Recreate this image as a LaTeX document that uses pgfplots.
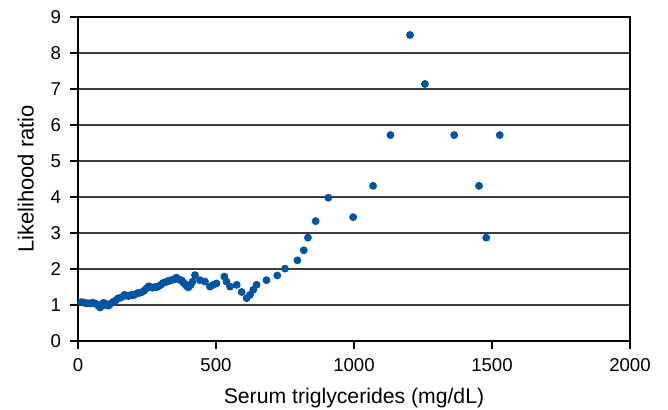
\documentclass[border=0pt]{standalone}
\usepackage{pgfplots}
\pgfplotsset{compat=1.18}
\usepackage{fontspec}
\setmainfont{Liberation Sans}
\definecolor{cDot}{RGB}{0,84,166}
\definecolor{cGrid}{RGB}{60,60,60}

\begin{document}
\begin{tikzpicture}
\path[use as bounding box] (-39pt,-34.5pt) rectangle (295pt,170.5pt);
\begin{axis}[
  scale only axis, width=276pt, height=162pt,
  xmin=0, xmax=2000, ymin=0, ymax=9,
  xtick={0,500,...,2000}, ytick={0,1,...,9},
  xtick pos=bottom, ytick pos=left,
  tick align=outside, major tick length=4pt,
  tick style={black, line width=0.8pt},
  axis line style={black, line width=0.8pt},
  ymajorgrids, grid style={cGrid, line width=0.9pt},
  every x tick label/.style={yshift=-1pt},
  every y tick label/.style={xshift=-1pt},
  tick label style={font=\fontsize{9.3}{11}\selectfont},
  /pgf/number format/assume math mode=true,
  /pgf/number format/1000 sep={},
  xlabel={Serum triglycerides (mg/dL)},
  ylabel={Likelihood ratio},
  xlabel style={font=\fontsize{10.6}{12}\selectfont, yshift=-1.5pt},
  ylabel style={font=\fontsize{11}{13}\selectfont, yshift=1.5pt},
]
\addplot[only marks, mark=*, mark size=1.75pt, cDot] coordinates {
(12,1.08)(20,1.07)(28,1.05)(36,1.05)(44,1.04)(52,1.06)(60,1.05)(68,1.02)
(74,0.98)(80,0.93)(86,0.97)(92,1.06)(98,1.04)(104,1.00)(110,0.98)(116,1.02)
(122,1.06)(128,1.09)(136,1.12)(144,1.18)(152,1.20)(160,1.22)(168,1.28)(176,1.26)
(184,1.25)(192,1.28)(200,1.27)(208,1.30)(216,1.33)(224,1.34)(232,1.36)(240,1.40)
(248,1.46)(256,1.52)(262,1.50)(270,1.48)(278,1.50)(286,1.50)(292,1.52)(300,1.56)
(308,1.61)(316,1.63)(324,1.66)(332,1.67)(340,1.70)(348,1.71)(356,1.76)(362,1.72)
(368,1.70)(376,1.68)(382,1.62)(388,1.58)(394,1.52)(400,1.49)(408,1.55)(415,1.65)
(424,1.83)(442,1.69)(460,1.65)(478,1.51)(490,1.56)(502,1.60)(530,1.79)(538,1.65)
(551,1.51)(575,1.56)(593,1.36)(611,1.19)(623,1.28)(635,1.42)(647,1.56)
(683,1.69)(722,1.82)(750,2.01)(795,2.24)(818,2.52)(833,2.87)(861,3.33)(907,3.98)
(997,3.44)(1069,4.31)(1132,5.72)(1203,8.50)(1257,7.14)(1363,5.72)(1453,4.31)
(1479,2.87)(1528,5.72)
};
\end{axis}
\end{tikzpicture}
\end{document}
